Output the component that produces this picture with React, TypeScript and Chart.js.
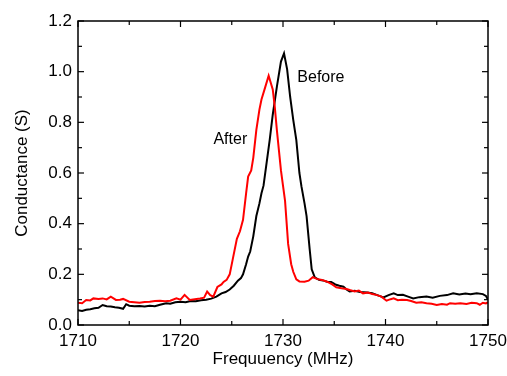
import { useEffect, useRef } from 'react';
import { Chart, registerables } from 'chart.js';

Chart.register(...registerables);

// "Before" curve (black)
const beforeFreq = [
  1710.0, 1710.4, 1710.8, 1711.2, 1711.6, 1712.0, 1712.4, 1712.8, 1713.2, 1713.6,
  1714.0, 1714.4, 1714.7, 1715.0, 1715.5, 1716.0, 1716.5, 1717.0, 1717.5, 1718.0,
  1718.6, 1719.0, 1719.5, 1720.0, 1720.5, 1721.0, 1721.5, 1722.0, 1722.5, 1723.0,
  1723.5, 1724.0, 1724.4, 1724.8, 1725.2, 1725.6, 1725.9, 1726.1, 1726.4, 1726.6,
  1726.8, 1727.1, 1727.4, 1727.7, 1727.9, 1728.1, 1728.4, 1728.7, 1729.0, 1729.4,
  1729.8, 1730.1, 1730.4, 1730.7, 1731.0, 1731.3, 1731.6, 1731.8, 1732.1, 1732.3,
  1732.6, 1732.8, 1733.1, 1733.5, 1733.9, 1734.3, 1734.7, 1735.1, 1735.5, 1735.9,
  1736.2, 1736.5, 1737.0, 1737.5, 1738.2, 1738.7, 1739.2, 1739.8, 1740.3, 1740.8,
  1741.2, 1741.7, 1742.2, 1742.7, 1743.3, 1744.0, 1744.6, 1745.3, 1746.0, 1746.6,
  1747.2, 1747.8, 1748.3, 1748.9, 1749.5, 1749.8, 1750.0,
];
const beforeG = [
  0.058, 0.055, 0.060, 0.062, 0.066, 0.068, 0.079, 0.074, 0.073, 0.070,
  0.068, 0.064, 0.082, 0.076, 0.074, 0.075, 0.073, 0.076, 0.074, 0.080,
  0.086, 0.084, 0.090, 0.092, 0.090, 0.095, 0.094, 0.098, 0.100, 0.104,
  0.112, 0.125, 0.130, 0.140, 0.155, 0.175, 0.185, 0.200, 0.240, 0.270,
  0.290, 0.350, 0.430, 0.480, 0.520, 0.550, 0.640, 0.730, 0.830, 0.940,
  1.040, 1.072, 1.010, 0.900, 0.810, 0.730, 0.600, 0.547, 0.480, 0.430,
  0.300, 0.220, 0.188, 0.178, 0.176, 0.171, 0.170, 0.160, 0.155, 0.151,
  0.140, 0.132, 0.135, 0.130, 0.128, 0.125, 0.118, 0.109, 0.118, 0.125,
  0.118, 0.119, 0.112, 0.105, 0.110, 0.112, 0.108, 0.115, 0.118, 0.125,
  0.120, 0.124, 0.121, 0.125, 0.122, 0.115, 0.099,
];

// "After" curve (red)
const afterFreq = [
  1710.0, 1710.4, 1710.8, 1711.2, 1711.5, 1712.0, 1712.4, 1712.8, 1713.2, 1713.7,
  1714.1, 1714.4, 1715.0, 1715.5, 1716.0, 1716.5, 1717.0, 1717.5, 1718.0, 1718.5,
  1719.0, 1719.6, 1720.0, 1720.4, 1720.9, 1721.4, 1721.9, 1722.3, 1722.6, 1722.9,
  1723.2, 1723.6, 1724.0, 1724.2, 1724.5, 1724.8, 1725.1, 1725.5, 1725.8, 1726.1,
  1726.4, 1726.6, 1726.9, 1727.1, 1727.4, 1727.7, 1727.9, 1728.2, 1728.6, 1729.0,
  1729.2, 1729.4, 1729.6, 1729.8, 1730.0, 1730.2, 1730.5, 1730.8, 1731.0, 1731.3,
  1731.6, 1732.1, 1732.5, 1732.9, 1733.3, 1733.8, 1734.3, 1734.8, 1735.2, 1735.7,
  1736.2, 1736.5, 1737.0, 1737.4, 1737.8, 1738.3, 1738.7, 1739.1, 1739.6, 1740.1,
  1740.5, 1740.8, 1741.2, 1741.6, 1742.1, 1742.5, 1743.0, 1743.5, 1744.0, 1744.5,
  1745.0, 1745.5, 1746.0, 1746.3, 1746.8, 1747.3, 1747.9, 1748.4, 1748.9, 1749.2,
  1749.5, 1749.8, 1750.0,
];
const afterG = [
  0.088, 0.086, 0.099, 0.097, 0.105, 0.103, 0.105, 0.101, 0.112, 0.099,
  0.100, 0.103, 0.092, 0.090, 0.088, 0.091, 0.092, 0.095, 0.096, 0.094,
  0.096, 0.105, 0.100, 0.119, 0.099, 0.102, 0.105, 0.108, 0.132, 0.118,
  0.112, 0.150, 0.160, 0.170, 0.178, 0.200, 0.260, 0.340, 0.370, 0.415,
  0.520, 0.586, 0.610, 0.660, 0.770, 0.850, 0.890, 0.930, 0.984, 0.930,
  0.860, 0.770, 0.690, 0.610, 0.550, 0.490, 0.320, 0.240, 0.210, 0.180,
  0.172, 0.171, 0.175, 0.189, 0.182, 0.178, 0.171, 0.160, 0.149, 0.145,
  0.142, 0.138, 0.132, 0.136, 0.125, 0.128, 0.122, 0.119, 0.112, 0.096,
  0.102, 0.105, 0.098, 0.100, 0.099, 0.095, 0.088, 0.090, 0.086, 0.084,
  0.079, 0.083, 0.080, 0.086, 0.084, 0.086, 0.083, 0.088, 0.086, 0.080,
  0.088, 0.085, 0.090,
];

const xMin = 1710;
const xMax = 1750;
const xMajorStep = 10;
const xMinorStep = 5;
const yMin = 0;
const yMax = 1.2;
const yMajorStep = 0.2;
const yMinorStep = 0.1;

const curveLabels = [
  { text: 'After', x: 1724.86, y: 0.733 },
  { text: 'Before', x: 1733.7, y: 0.978 },
];

const FONT = '"Liberation Sans", Arial, sans-serif';

const framePlugin = {
  id: 'frameTicks',
  afterDatasetsDraw(chart: any) {
    const { ctx, chartArea, scales } = chart;
    const { left, right, top, bottom } = chartArea;
    const xs = scales.x;
    const ys = scales.y;
    ctx.save();
    ctx.strokeStyle = '#000';
    ctx.lineWidth = 1.5;
    ctx.strokeRect(left, top, right - left, bottom - top);
    ctx.lineWidth = 1.2;
    const line = (x1: number, y1: number, x2: number, y2: number) => {
      ctx.beginPath();
      ctx.moveTo(x1, y1);
      ctx.lineTo(x2, y2);
      ctx.stroke();
    };
    const nx = Math.round((xMax - xMin) / xMinorStep);
    const xr = Math.round(xMajorStep / xMinorStep);
    for (let i = 0; i <= nx; i++) {
      const v = xMin + i * xMinorStep;
      const px = xs.getPixelForValue(v);
      const len = i % xr === 0 ? 6 : 4;
      line(px, bottom, px, bottom - len);
      line(px, top, px, top + len);
    }
    const ny = Math.round((yMax - yMin) / yMinorStep);
    const yr = Math.round(yMajorStep / yMinorStep);
    for (let i = 0; i <= ny; i++) {
      const v = yMin + i * yMinorStep;
      const py = ys.getPixelForValue(v);
      const len = i % yr === 0 ? 6 : 4;
      line(left, py, left + len, py);
      line(right, py, right - len, py);
    }
    ctx.fillStyle = '#000';
    ctx.font = `16px ${FONT}`;
    ctx.textAlign = 'center';
    ctx.textBaseline = 'middle';
    for (const a of curveLabels) {
      ctx.fillText(a.text, xs.getPixelForValue(a.x), ys.getPixelForValue(a.y));
    }
    ctx.restore();
  },
};

export default function App() {
  const ref = useRef<HTMLCanvasElement | null>(null);
  useEffect(() => {
    if (!ref.current) return;
    const chart = new Chart(ref.current, {
      type: 'line',
      data: {
        datasets: [
          {
            label: 'After',
            data: afterFreq.map((f, i) => ({ x: f, y: afterG[i] })),
            borderColor: '#ff0000',
            borderWidth: 2,
            pointRadius: 0,
            tension: 0,
            fill: false,
          },
          {
            label: 'Before',
            data: beforeFreq.map((f, i) => ({ x: f, y: beforeG[i] })),
            borderColor: '#000000',
            borderWidth: 2,
            pointRadius: 0,
            tension: 0,
            fill: false,
          },
        ],
      },
      options: {
        animation: false,
        responsive: false,
        layout: { padding: { top: 21, right: 19, left: 0, bottom: 0 } },
        plugins: { legend: { display: false }, tooltip: { enabled: false } },
        scales: {
          x: {
            type: 'linear',
            min: xMin,
            max: xMax,
            grid: { display: false, drawTicks: false },
            border: { display: false },
            ticks: {
              stepSize: xMajorStep,
              padding: 6,
              color: '#000',
              font: { family: FONT, size: 17 },
              callback: (v: any) => String(v),
              maxRotation: 0,
            },
            title: {
              display: true,
              text: 'Frequuency (MHz)',
              color: '#000',
              font: { family: FONT, size: 17 },
              padding: { top: 0, bottom: 6 },
            },
            afterFit: (s: any) => {
              s.height = 51;
              s.paddingLeft = 0;
              s.paddingRight = 0;
            },
          },
          y: {
            type: 'linear',
            min: yMin,
            max: yMax,
            grid: { display: false, drawTicks: false },
            border: { display: false },
            ticks: {
              stepSize: yMajorStep,
              padding: 6,
              color: '#000',
              font: { family: FONT, size: 17 },
              callback: (v: any) => Number(v).toFixed(1),
            },
            title: {
              display: true,
              text: 'Conductance (S)',
              color: '#000',
              font: { family: FONT, size: 17 },
              padding: { top: 12, bottom: 0 },
            },
            afterFit: (s: any) => {
              s.width = 78;
              s.paddingTop = 0;
              s.paddingBottom = 0;
            },
          },
        },
      },
      plugins: [framePlugin],
    } as any);
    return () => chart.destroy();
  }, []);
  return (
    <div style={{ position: 'absolute', left: 0, top: 0, width: 507, height: 376, background: '#fff' }}>
      <canvas ref={ref} width={507} height={376} style={{ display: 'block' }} />
    </div>
  );
}
